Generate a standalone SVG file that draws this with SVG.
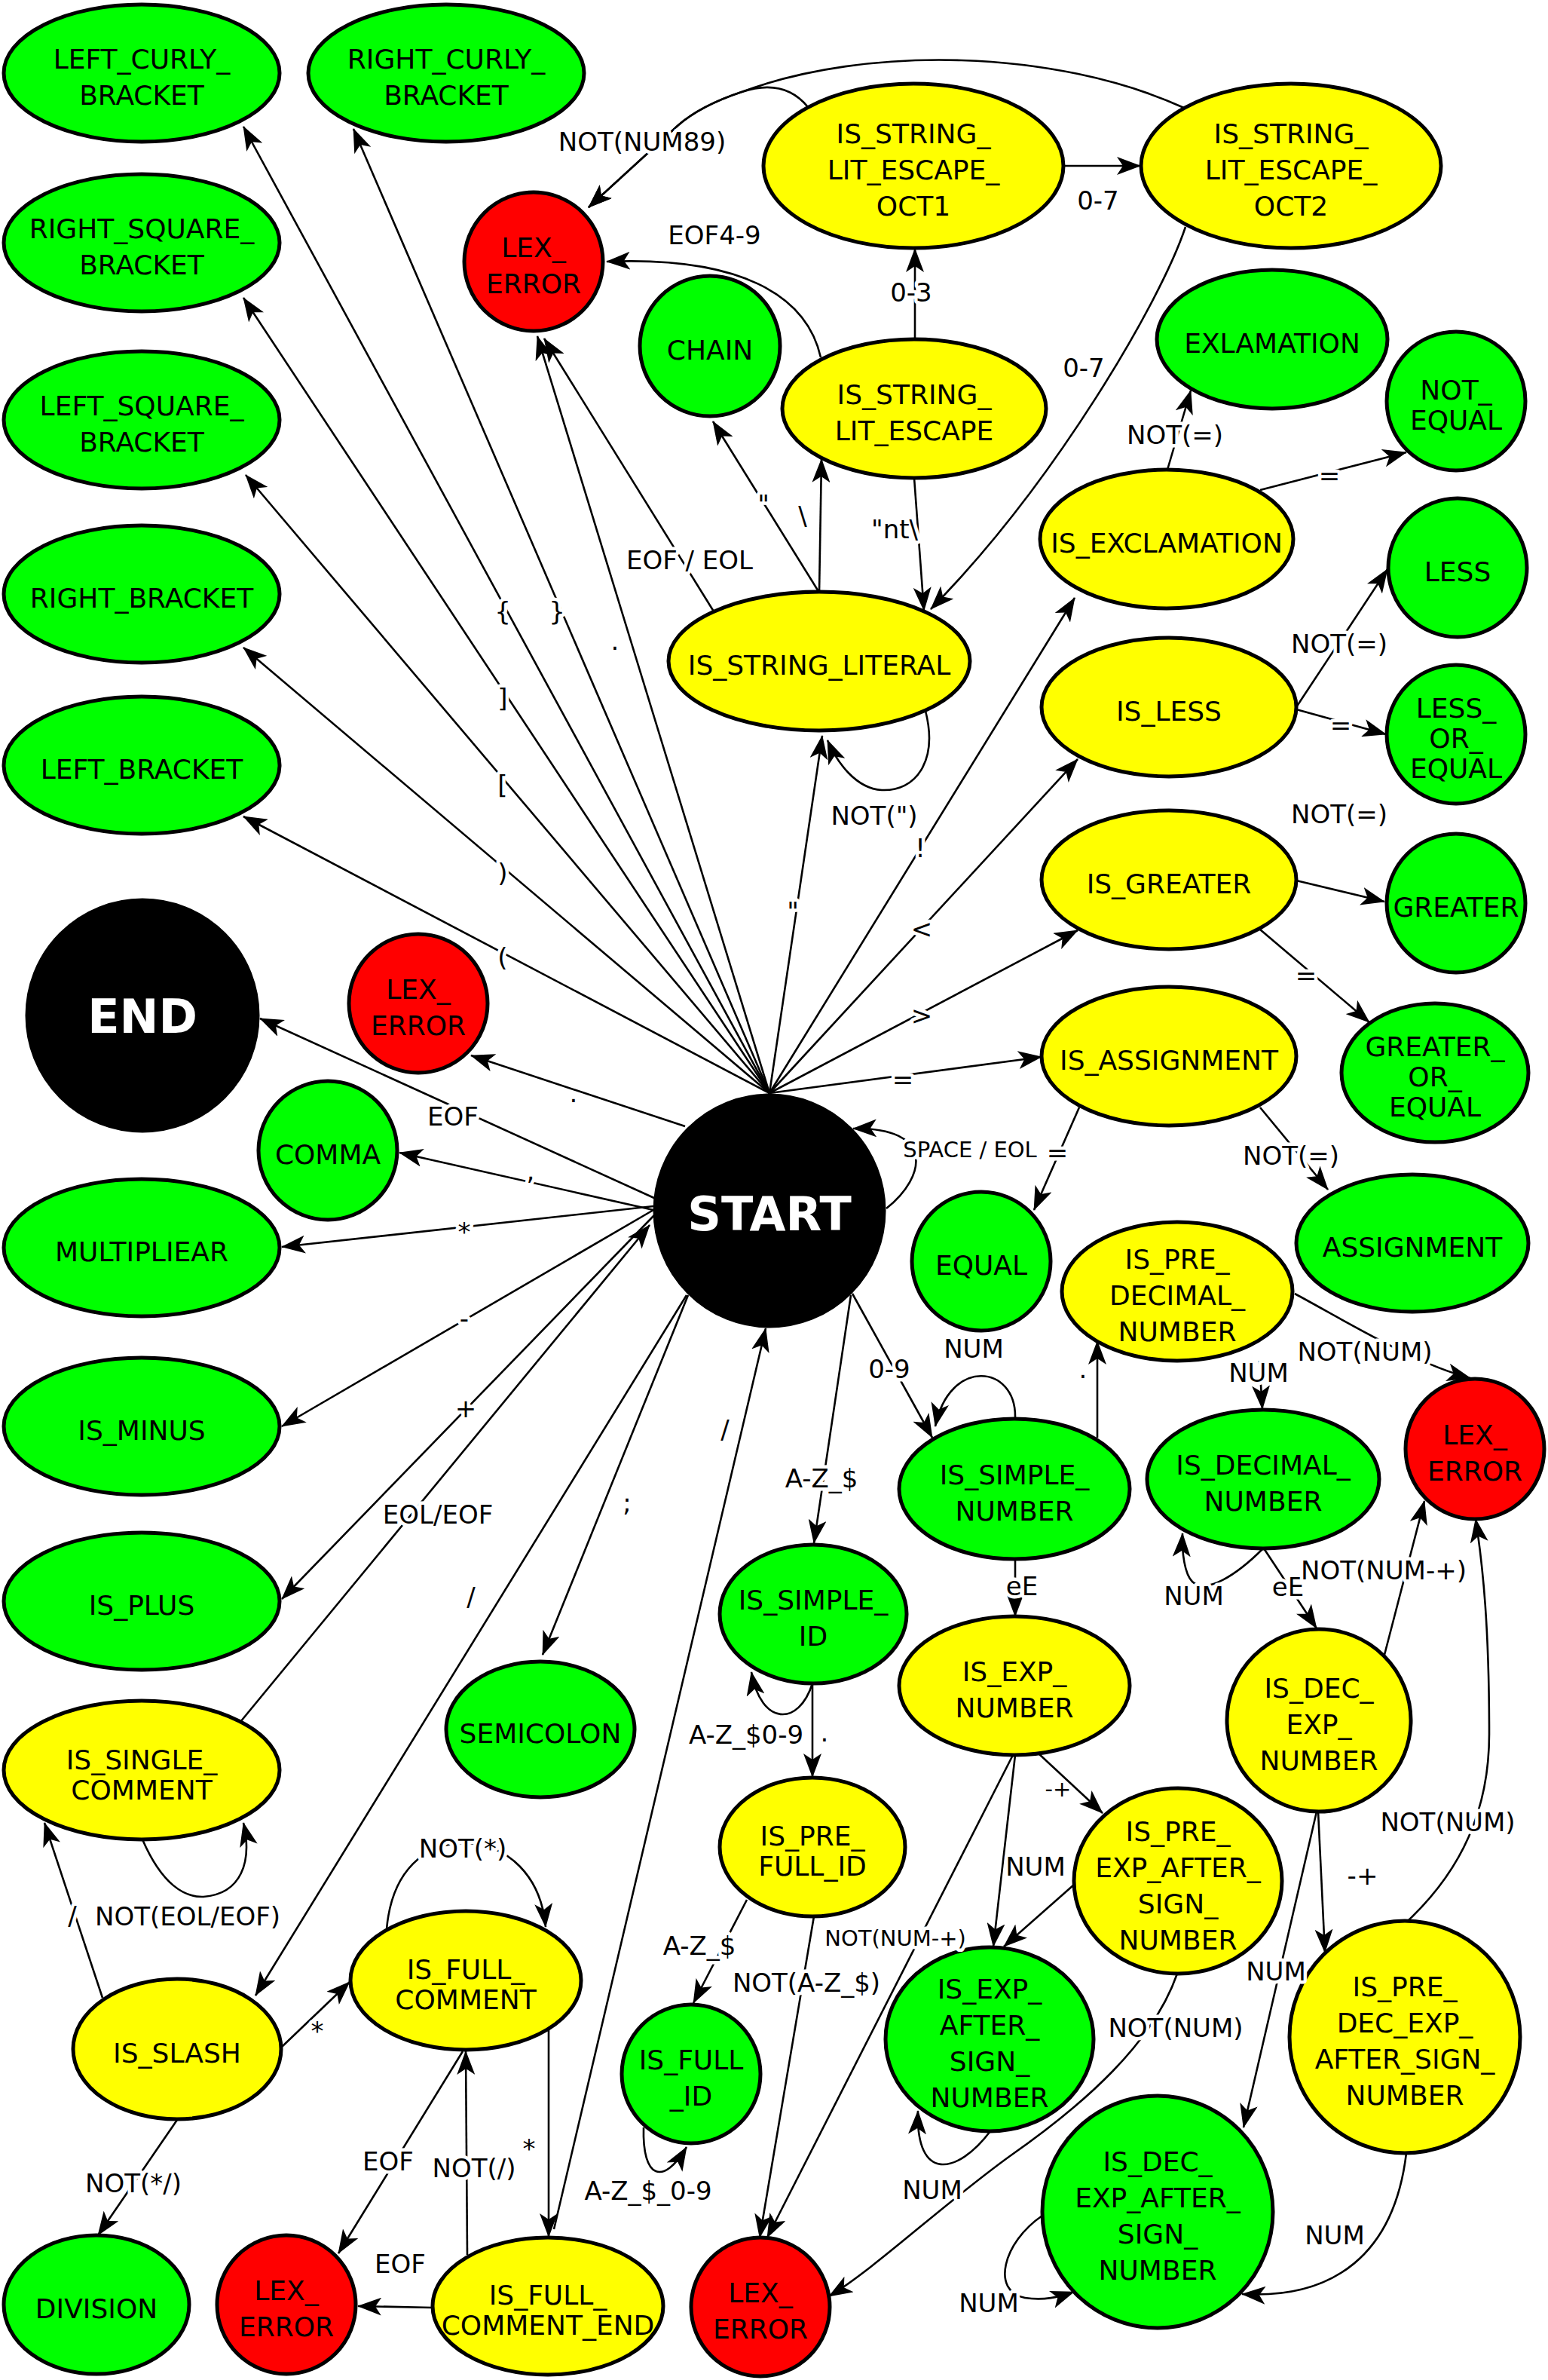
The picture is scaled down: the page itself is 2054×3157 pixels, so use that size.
<svg xmlns="http://www.w3.org/2000/svg" width="2054" height="3157" viewBox="0 0 2054 3157">
<style>
.n{stroke:#000;stroke-width:5}
.g{fill:#00ff00}.y{fill:#ffff00}.r{fill:#ff0000}.k{fill:#000}
.t{font-family:"DejaVu Sans",Verdana,sans-serif;font-size:36px;text-anchor:middle;fill:#000}
.w{font-family:"DejaVu Sans",Verdana,sans-serif;font-weight:bold;text-anchor:middle;fill:#fff}
.e path{fill:none;stroke:#000;stroke-width:2.6;marker-end:url(#a)}
.l{font-family:"DejaVu Sans",Verdana,sans-serif;font-size:34px;text-anchor:middle;fill:#000;stroke:#fff;stroke-width:9;stroke-linejoin:round;paint-order:stroke}
.s{font-size:29px}
</style>
<defs>
<marker id="a" markerUnits="userSpaceOnUse" viewBox="0 0 32 24" refX="31" refY="12" markerWidth="32" markerHeight="24" orient="auto">
<path d="M0,0 L32,12 L0,24 L8,12 Z" fill="#000"/>
</marker>
</defs>
<rect width="2054" height="3157" fill="#fff"/>

<g id="nodes">
<g id="LEFT_CURLY_BRACKET"><ellipse class="n g" cx="188" cy="97" rx="183" ry="91"/><text class="t" x="188" y="91">LEFT_CURLY_</text><text class="t" x="188" y="139">BRACKET</text></g>
<g id="RIGHT_CURLY_BRACKET"><ellipse class="n g" cx="592" cy="97" rx="183" ry="91"/><text class="t" x="592" y="91">RIGHT_CURLY_</text><text class="t" x="592" y="139">BRACKET</text></g>
<g id="RIGHT_SQUARE_BRACKET"><ellipse class="n g" cx="188" cy="322" rx="183" ry="91"/><text class="t" x="188" y="316">RIGHT_SQUARE_</text><text class="t" x="188" y="364">BRACKET</text></g>
<g id="LEFT_SQUARE_BRACKET"><ellipse class="n g" cx="188" cy="557" rx="183" ry="91"/><text class="t" x="188" y="551">LEFT_SQUARE_</text><text class="t" x="188" y="599">BRACKET</text></g>
<g id="RIGHT_BRACKET"><ellipse class="n g" cx="188" cy="788" rx="183" ry="91"/><text class="t" x="188" y="806">RIGHT_BRACKET</text></g>
<g id="LEFT_BRACKET"><ellipse class="n g" cx="188" cy="1015" rx="183" ry="91"/><text class="t" x="188" y="1033">LEFT_BRACKET</text></g>
<g id="END"><ellipse class="n k" cx="189" cy="1347" rx="153" ry="153"/><text class="w" x="189" y="1370" font-size="62">END</text></g>
<g id="LEX_ERROR_1"><ellipse class="n r" cx="708" cy="347" rx="92" ry="92"/><text class="t" x="708" y="341">LEX_</text><text class="t" x="708" y="389">ERROR</text></g>
<g id="LEX_ERROR_2"><ellipse class="n r" cx="555" cy="1331" rx="92" ry="92"/><text class="t" x="555" y="1325">LEX_</text><text class="t" x="555" y="1373">ERROR</text></g>
<g id="COMMA"><ellipse class="n g" cx="435" cy="1526" rx="92" ry="92"/><text class="t" x="435" y="1544">COMMA</text></g>
<g id="MULTIPLIEAR"><ellipse class="n g" cx="188" cy="1655" rx="183" ry="91"/><text class="t" x="188" y="1673">MULTIPLIEAR</text></g>
<g id="IS_MINUS"><ellipse class="n g" cx="188" cy="1892" rx="183" ry="91"/><text class="t" x="188" y="1910">IS_MINUS</text></g>
<g id="IS_PLUS"><ellipse class="n g" cx="188" cy="2124" rx="183" ry="91"/><text class="t" x="188" y="2142">IS_PLUS</text></g>
<g id="IS_SINGLE_COMMENT"><ellipse class="n y" cx="188" cy="2348" rx="183" ry="92"/><text class="t" x="188" y="2347">IS_SINGLE_</text><text class="t" x="188" y="2387">COMMENT</text></g>
<g id="SEMICOLON"><ellipse class="n g" cx="717" cy="2294" rx="125" ry="90"/><text class="t" x="717" y="2312">SEMICOLON</text></g>
<g id="IS_SLASH"><ellipse class="n y" cx="235" cy="2718" rx="138" ry="93"/><text class="t" x="235" y="2736">IS_SLASH</text></g>
<g id="DIVISION"><ellipse class="n g" cx="128" cy="3057" rx="123" ry="92"/><text class="t" x="128" y="3075">DIVISION</text></g>
<g id="LEX_ERROR_3"><ellipse class="n r" cx="380" cy="3057" rx="92" ry="92"/><text class="t" x="380" y="3051">LEX_</text><text class="t" x="380" y="3099">ERROR</text></g>
<g id="IS_FULL_COMMENT"><ellipse class="n y" cx="618" cy="2627" rx="153" ry="92"/><text class="t" x="618" y="2625">IS_FULL_</text><text class="t" x="618" y="2665">COMMENT</text></g>
<g id="IS_FULL_COMMENT_END"><ellipse class="n y" cx="727" cy="3059" rx="153" ry="91"/><text class="t" x="727" y="3057">IS_FULL_</text><text class="t" x="727" y="3097">COMMENT_END</text></g>
<g id="START"><ellipse class="n k" cx="1021" cy="1606" rx="152" ry="153"/><text class="w" x="1021" y="1632" font-size="62">START</text></g>
<g id="CHAIN"><ellipse class="n g" cx="942" cy="459" rx="93" ry="93"/><text class="t" x="942" y="477">CHAIN</text></g>
<g id="IS_STRING_LITERAL"><ellipse class="n y" cx="1087" cy="877" rx="200" ry="92"/><text class="t" x="1087" y="895">IS_STRING_LITERAL</text></g>
<g id="IS_STRING_LIT_ESCAPE"><ellipse class="n y" cx="1213" cy="542" rx="175" ry="92"/><text class="t" x="1213" y="536">IS_STRING_</text><text class="t" x="1213" y="584">LIT_ESCAPE</text></g>
<g id="IS_STRING_LIT_ESCAPE_OCT1"><ellipse class="n y" cx="1212" cy="220" rx="199" ry="109"/><text class="t" x="1212" y="190">IS_STRING_</text><text class="t" x="1212" y="238">LIT_ESCAPE_</text><text class="t" x="1212" y="286">OCT1</text></g>
<g id="IS_STRING_LIT_ESCAPE_OCT2"><ellipse class="n y" cx="1713" cy="220" rx="199" ry="109"/><text class="t" x="1713" y="190">IS_STRING_</text><text class="t" x="1713" y="238">LIT_ESCAPE_</text><text class="t" x="1713" y="286">OCT2</text></g>
<g id="EXLAMATION"><ellipse class="n g" cx="1688" cy="450" rx="153" ry="92"/><text class="t" x="1688" y="468">EXLAMATION</text></g>
<g id="NOT_EQUAL"><ellipse class="n g" cx="1932" cy="532" rx="92" ry="92"/><text class="t" x="1932" y="530">NOT_</text><text class="t" x="1932" y="570">EQUAL</text></g>
<g id="IS_EXCLAMATION"><ellipse class="n y" cx="1548" cy="715" rx="168" ry="92"/><text class="t" x="1548" y="733">IS_EXCLAMATION</text></g>
<g id="LESS"><ellipse class="n g" cx="1934" cy="753" rx="92" ry="92"/><text class="t" x="1934" y="771">LESS</text></g>
<g id="IS_LESS"><ellipse class="n y" cx="1551" cy="938" rx="169" ry="92"/><text class="t" x="1551" y="956">IS_LESS</text></g>
<g id="LESS_OR_EQUAL"><ellipse class="n g" cx="1932" cy="974" rx="92" ry="92"/><text class="t" x="1932" y="952">LESS_</text><text class="t" x="1932" y="992">OR_</text><text class="t" x="1932" y="1032">EQUAL</text></g>
<g id="IS_GREATER"><ellipse class="n y" cx="1551" cy="1167" rx="169" ry="92"/><text class="t" x="1551" y="1185">IS_GREATER</text></g>
<g id="GREATER"><ellipse class="n g" cx="1932" cy="1198" rx="92" ry="92"/><text class="t" x="1932" y="1216">GREATER</text></g>
<g id="GREATER_OR_EQUAL"><ellipse class="n g" cx="1904" cy="1423" rx="124" ry="92"/><text class="t" x="1904" y="1401">GREATER_</text><text class="t" x="1904" y="1441">OR_</text><text class="t" x="1904" y="1481">EQUAL</text></g>
<g id="IS_ASSIGNMENT"><ellipse class="n y" cx="1551" cy="1401" rx="169" ry="92"/><text class="t" x="1551" y="1419">IS_ASSIGNMENT</text></g>
<g id="ASSIGNMENT"><ellipse class="n g" cx="1874" cy="1649" rx="154" ry="91"/><text class="t" x="1874" y="1667">ASSIGNMENT</text></g>
<g id="EQUAL"><ellipse class="n g" cx="1302" cy="1673" rx="92" ry="92"/><text class="t" x="1302" y="1691">EQUAL</text></g>
<g id="IS_PRE_DECIMAL_NUMBER"><ellipse class="n y" cx="1562" cy="1713" rx="153" ry="92"/><text class="t" x="1562" y="1683">IS_PRE_</text><text class="t" x="1562" y="1731">DECIMAL_</text><text class="t" x="1562" y="1779">NUMBER</text></g>
<g id="IS_SIMPLE_NUMBER"><ellipse class="n g" cx="1346" cy="1975" rx="153" ry="93"/><text class="t" x="1346" y="1969">IS_SIMPLE_</text><text class="t" x="1346" y="2017">NUMBER</text></g>
<g id="IS_DECIMAL_NUMBER"><ellipse class="n g" cx="1676" cy="1962" rx="154" ry="92"/><text class="t" x="1676" y="1956">IS_DECIMAL_</text><text class="t" x="1676" y="2004">NUMBER</text></g>
<g id="LEX_ERROR_4"><ellipse class="n r" cx="1957" cy="1922" rx="92" ry="93"/><text class="t" x="1957" y="1916">LEX_</text><text class="t" x="1957" y="1964">ERROR</text></g>
<g id="IS_SIMPLE_ID"><ellipse class="n g" cx="1079" cy="2141" rx="124" ry="92"/><text class="t" x="1079" y="2135">IS_SIMPLE_</text><text class="t" x="1079" y="2183">ID</text></g>
<g id="IS_EXP_NUMBER"><ellipse class="n y" cx="1346" cy="2236" rx="153" ry="92"/><text class="t" x="1346" y="2230">IS_EXP_</text><text class="t" x="1346" y="2278">NUMBER</text></g>
<g id="IS_DEC_EXP_NUMBER"><ellipse class="n y" cx="1750" cy="2282" rx="122" ry="121"/><text class="t" x="1750" y="2252">IS_DEC_</text><text class="t" x="1750" y="2300">EXP_</text><text class="t" x="1750" y="2348">NUMBER</text></g>
<g id="IS_PRE_FULL_ID"><ellipse class="n y" cx="1078" cy="2450" rx="123" ry="92"/><text class="t" x="1078" y="2448">IS_PRE_</text><text class="t" x="1078" y="2488">FULL_ID</text></g>
<g id="IS_PRE_EXP_AFTER_SIGN_NUMBER"><ellipse class="n y" cx="1563" cy="2495" rx="138" ry="123"/><text class="t" x="1563" y="2442">IS_PRE_</text><text class="t" x="1563" y="2490">EXP_AFTER_</text><text class="t" x="1563" y="2538">SIGN_</text><text class="t" x="1563" y="2586">NUMBER</text></g>
<g id="IS_FULL_ID"><ellipse class="n g" cx="917" cy="2751" rx="92" ry="92"/><text class="t" x="917" y="2745">IS_FULL</text><text class="t" x="917" y="2793">_ID</text></g>
<g id="IS_EXP_AFTER_SIGN_NUMBER"><ellipse class="n g" cx="1313" cy="2705" rx="138" ry="122"/><text class="t" x="1313" y="2651">IS_EXP_</text><text class="t" x="1313" y="2699">AFTER_</text><text class="t" x="1313" y="2747">SIGN_</text><text class="t" x="1313" y="2795">NUMBER</text></g>
<g id="IS_PRE_DEC_EXP_AFTER_SIGN_NUMBER"><ellipse class="n y" cx="1864" cy="2702" rx="153" ry="154"/><text class="t" x="1864" y="2648">IS_PRE_</text><text class="t" x="1864" y="2696">DEC_EXP_</text><text class="t" x="1864" y="2744">AFTER_SIGN_</text><text class="t" x="1864" y="2792">NUMBER</text></g>
<g id="IS_DEC_EXP_AFTER_SIGN_NUMBER"><ellipse class="n g" cx="1536" cy="2934" rx="153" ry="154"/><text class="t" x="1536" y="2880">IS_DEC_</text><text class="t" x="1536" y="2928">EXP_AFTER_</text><text class="t" x="1536" y="2976">SIGN_</text><text class="t" x="1536" y="3024">NUMBER</text></g>
<g id="LEX_ERROR_5"><ellipse class="n r" cx="1009" cy="3060" rx="92" ry="92"/><text class="t" x="1009" y="3054">LEX_</text><text class="t" x="1009" y="3102">ERROR</text></g>
</g>

<g id="connectors" class="e">
<path d="M1021,1450 L323,168"/>
<path d="M1021,1450 L469,171"/>
<path d="M1021,1450 L713,446"/>
<path d="M1021,1450 L323,395"/>
<path d="M1021,1450 L326,630"/>
<path d="M1021,1450 L323,859"/>
<path d="M1021,1450 L323,1083"/>
<path d="M909,1494 L625,1400"/>
<path d="M870,1590 L345,1351"/>
<path d="M867,1605 L530,1529"/>
<path d="M867,1600 L374,1654"/>
<path d="M867,1605 L374,1892"/>
<path d="M868,1612 L374,2121"/>
<path d="M319,2284 L862,1625"/>
<path d="M911,1718 L339,2647"/>
<path d="M913,1718 L720,2195"/>
<path d="M735,2957 L1016,1762"/>
<path d="M1021,1450 L1091,976"/>
<path d="M1021,1450 L1426,793"/>
<path d="M1021,1450 L1430,1007"/>
<path d="M1021,1450 L1430,1234"/>
<path d="M1021,1450 L1382,1402"/>
<path d="M1176,1603 C1230,1560 1240,1495 1132,1497"/>
<path d="M1129,1718 L1080,2047"/>
<path d="M1131,1716 L1237,1907"/>
<path d="M1432,1469 L1372,1605"/>
<path d="M1672,1469 L1762,1578"/>
<path d="M1720,1168 L1837,1196"/>
<path d="M1672,1233 L1817,1356"/>
<path d="M1720,938 L1841,755"/>
<path d="M1720,941 L1839,974"/>
<path d="M1549,623 L1580,518"/>
<path d="M1672,650 L1866,600"/>
<path d="M947,811 L722,449"/>
<path d="M1087,786 L946,559"/>
<path d="M1087,786 L1090,609"/>
<path d="M1213,634 L1226,810"/>
<path d="M1573,301 C1540,400 1400,640 1235,808"/>
<path d="M1214,450 L1214,330"/>
<path d="M1089,474 C1070,390 980,340 805,347"/>
<path d="M1411,220 L1513,220"/>
<path d="M1072,142 C1050,115 1020,110 984,122 Q930,140 900,166 L781,275"/>
<path d="M1571,143 C1400,65 1150,60 984,122 Q930,140 900,166 L781,275"/>
<path d="M1228,943 C1245,1010 1215,1050 1170,1048 C1135,1046 1110,1010 1098,982"/>
<path d="M1347,1880 C1348,1810 1260,1800 1241,1892"/>
<path d="M1456,1907 L1456,1779"/>
<path d="M1347,2068 L1347,2144"/>
<path d="M1671,1805 L1675,1869"/>
<path d="M1718,1716 C1790,1755 1880,1810 1951,1828"/>
<path d="M1676,2054 C1640,2090 1600,2115 1582,2098 C1572,2088 1568,2060 1569,2034"/>
<path d="M1677,2054 L1747,2160"/>
<path d="M1837,2195 L1890,1991"/>
<path d="M1868,2548 C1940,2480 1976,2400 1976,2300 C1976,2160 1968,2080 1958,2015"/>
<path d="M1749,2403 L1758,2590"/>
<path d="M1747,2403 L1650,2822"/>
<path d="M1866,2856 C1850,2990 1770,3050 1648,3043"/>
<path d="M1383,2939 C1330,2975 1315,3040 1360,3048 C1385,3052 1405,3047 1425,3040"/>
<path d="M1378,2326 L1463,2405"/>
<path d="M1347,2328 L1318,2582"/>
<path d="M1344,2328 L1018,2968"/>
<path d="M1425,2500 L1332,2582"/>
<path d="M1562,2618 C1530,2710 1440,2790 1340,2860 C1250,2925 1160,3010 1100,3046"/>
<path d="M1314,2827 C1270,2885 1215,2895 1218,2800"/>
<path d="M1078,2233 C1060,2290 1010,2290 997,2218"/>
<path d="M1078,2233 L1078,2357"/>
<path d="M991,2520 L920,2657"/>
<path d="M1080,2542 L1008,2968"/>
<path d="M854,2822 C852,2890 880,2900 911,2848"/>
<path d="M136,2650 L59,2418"/>
<path d="M189,2440 C215,2500 245,2517 270,2516 C320,2512 335,2470 323,2418"/>
<path d="M374,2715 L464,2629"/>
<path d="M235,2812 L130,2965"/>
<path d="M513,2559 C520,2480 565,2445 615,2445 C675,2445 718,2490 724,2556"/>
<path d="M728,2691 L728,2967"/>
<path d="M614,2721 L449,2989"/>
<path d="M620,2991 L618,2721"/>
<path d="M574,3061 L475,3059"/>

<text class="l" x="667" y="823">{</text>
<text class="l" x="739" y="823">}</text>
<text class="l" x="816" y="862">.</text>
<text class="l" x="667" y="938">]</text>
<text class="l" x="667" y="1053">[</text>
<text class="l" x="667" y="1170">)</text>
<text class="l" x="667" y="1282">(</text>
<text class="l" x="761" y="1462">.</text>
<text class="l" x="601" y="1493">EOF</text>
<text class="l" x="704" y="1565">,</text>
<text class="l" x="616" y="1646">*</text>
<text class="l" x="616" y="1761">-</text>
<text class="l" x="618" y="1880">+</text>
<text class="l" x="581" y="2021">EOL/EOF</text>
<text class="l" x="625" y="2130">/</text>
<text class="l" x="832" y="2005">;</text>
<text class="l" x="962" y="1908">/</text>
<text class="l" x="1052" y="1221">"</text>
<text class="l" x="1221" y="1137">!</text>
<text class="l" x="1223" y="1244">&lt;</text>
<text class="l" x="1223" y="1359">&gt;</text>
<text class="l" x="1198" y="1444">=</text>
<text class="l s" x="1287" y="1535">SPACE / EOL</text>
<text class="l" x="1090" y="1973">A-Z_$</text>
<text class="l" x="1180" y="1828">0-9</text>
<text class="l" x="1403" y="1541">=</text>
<text class="l" x="1713" y="1545">NOT(=)</text>
<text class="l" x="1777" y="1092">NOT(=)</text>
<text class="l" x="1733" y="1306">=</text>
<text class="l" x="1777" y="866">NOT(=)</text>
<text class="l" x="1779" y="974">=</text>
<text class="l" x="1559" y="589">NOT(=)</text>
<text class="l" x="1764" y="643">=</text>
<text class="l" x="915" y="755">EOF / EOL</text>
<text class="l" x="1013" y="681">"</text>
<text class="l" x="1065" y="696">\</text>
<text class="l" x="1187" y="714">"nt\</text>
<text class="l" x="1209" y="400">0-3</text>
<text class="l" x="948" y="324">EOF4-9</text>
<text class="l" x="1457" y="278">0-7</text>
<text class="l" x="852" y="200">NOT(NUM89)</text>
<text class="l" x="1438" y="500">0-7</text>
<text class="l" x="1160" y="1094">NOT(")</text>
<text class="l" x="1292" y="1801">NUM</text>
<text class="l" x="1437" y="1828">.</text>
<text class="l" x="1356" y="2116">eE</text>
<text class="l" x="1670" y="1833">NUM</text>
<text class="l" x="1811" y="1805">NOT(NUM)</text>
<text class="l" x="1584" y="2129">NUM</text>
<text class="l" x="1709" y="2117">eE</text>
<text class="l" x="1836" y="2095">NOT(NUM-+)</text>
<text class="l" x="1921" y="2429">NOT(NUM)</text>
<text class="l" x="1808" y="2500">-+</text>
<text class="l" x="1693" y="2627">NUM</text>
<text class="l" x="1771" y="2977">NUM</text>
<text class="l" x="1312" y="3067">NUM</text>
<text class="l s" x="1404" y="2383">-+</text>
<text class="l" x="1374" y="2488">NUM</text>
<text class="l s" x="1188" y="2581">NOT(NUM-+)</text>
<text class="l" x="1560" y="2702">NOT(NUM)</text>
<text class="l" x="1237" y="2917">NUM</text>
<text class="l" x="990" y="2313">A-Z_$0-9</text>
<text class="l" x="1094" y="2310">.</text>
<text class="l" x="928" y="2593">A-Z_$</text>
<text class="l" x="1070" y="2642">NOT(A-Z_$)</text>
<text class="l" x="860" y="2918">A-Z_$_0-9</text>
<text class="l" x="96" y="2553">/</text>
<text class="l" x="249" y="2554">NOT(EOL/EOF)</text>
<text class="l" x="421" y="2706">*</text>
<text class="l" x="177" y="2908">NOT(*/)</text>
<text class="l" x="614" y="2464">NOT(*)</text>
<text class="l" x="702" y="2862">*</text>
<text class="l" x="515" y="2879">EOF</text>
<text class="l" x="629" y="2888">NOT(/)</text>
<text class="l" x="531" y="3015">EOF</text>
</g>
</svg>
